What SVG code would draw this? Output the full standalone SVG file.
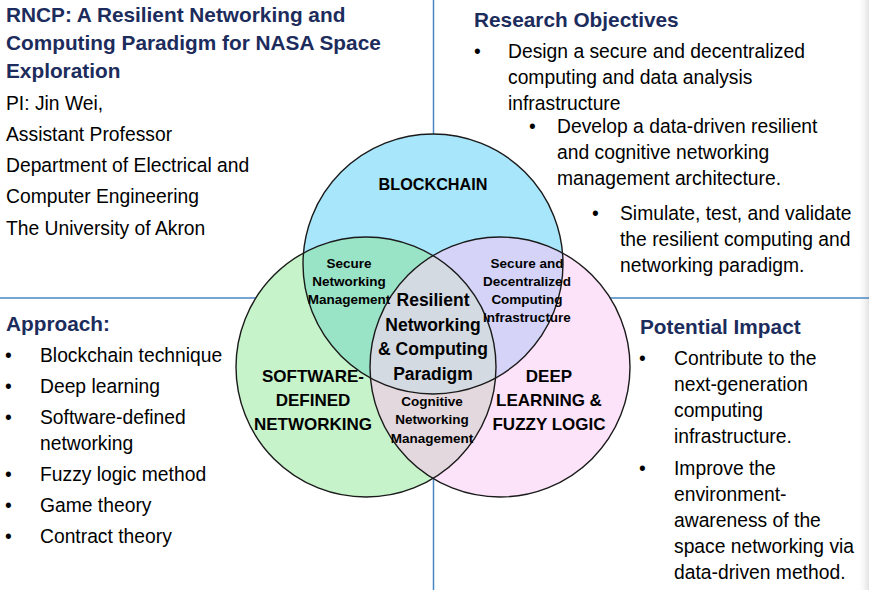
<svg xmlns="http://www.w3.org/2000/svg" width="869" height="590" viewBox="0 0 869 590">
<defs>
<style>
text{font-family:"Liberation Sans",Arial,sans-serif;fill:#000}
.h{font-weight:bold;font-size:20.8px;fill:#1c2c5c}
.b{font-size:19.3px}
.v{font-weight:bold;font-size:17px;text-anchor:middle}
.vs{font-weight:bold;font-size:13.5px;text-anchor:middle}
.grid{stroke:#4a86c4;stroke-width:1.5;fill:none}
.ring{fill:none;stroke:#1a1a1a;stroke-width:1.4}
</style>
<clipPath id="cBlue"><circle cx="433" cy="264" r="130"/></clipPath>
<clipPath id="cGreen"><circle cx="366" cy="367" r="130"/></clipPath>
<clipPath id="cPink"><circle cx="500" cy="367" r="130"/></clipPath>
<linearGradient id="edge" x1="0" y1="0" x2="1" y2="0">
<stop offset="0" stop-color="#ffffff" stop-opacity="0"/>
<stop offset="1" stop-color="#e2e2e2"/>
</linearGradient>
</defs>
<rect width="869" height="590" fill="#ffffff"/>
<rect x="857" y="0" width="12" height="590" fill="url(#edge)"/>

<g id="connectors">
<line class="grid" x1="433.5" y1="0" x2="433.5" y2="590"/>
<line class="grid" x1="0" y1="298" x2="869" y2="298"/>
</g>

<g id="venn">
<circle cx="433" cy="264" r="130" fill="#a8e6fc"/>
<circle cx="366" cy="367" r="130" fill="#c6f3c9"/>
<circle cx="500" cy="367" r="130" fill="#fde3fa"/>
<circle cx="366" cy="367" r="130" fill="#99e3c6" clip-path="url(#cBlue)"/>
<circle cx="500" cy="367" r="130" fill="#d5d4f8" clip-path="url(#cBlue)"/>
<circle cx="500" cy="367" r="130" fill="#e3d8dd" clip-path="url(#cGreen)"/>
<g clip-path="url(#cBlue)"><circle cx="500" cy="367" r="130" fill="#d3dae1" clip-path="url(#cGreen)"/></g>
<circle class="ring" cx="433" cy="264" r="130"/>
<circle class="ring" cx="366" cy="367" r="130"/>
<circle class="ring" cx="500" cy="367" r="130"/>
</g>

<g id="node-blockchain"><text class="v" x="433" y="190" style="font-size:16.2px">BLOCKCHAIN</text></g>
<g id="node-sdn">
<text class="v" x="313" y="382">SOFTWARE-</text>
<text class="v" x="313" y="406">DEFINED</text>
<text class="v" x="313" y="430">NETWORKING</text>
</g>
<g id="node-deep">
<text class="v" x="549" y="382">DEEP</text>
<text class="v" x="549" y="406">LEARNING &amp;</text>
<text class="v" x="549" y="430">FUZZY LOGIC</text>
</g>
<g id="node-snm">
<text class="vs" x="349" y="268">Secure</text>
<text class="vs" x="349" y="286">Networking</text>
<text class="vs" x="349" y="304">Management</text>
</g>
<g id="node-sdci">
<text class="vs" x="527" y="268">Secure and</text>
<text class="vs" x="527" y="286">Decentralized</text>
<text class="vs" x="527" y="304">Computing</text>
<text class="vs" x="527" y="322">Infrastructure</text>
</g>
<g id="node-cnm">
<text class="vs" x="432" y="406">Cognitive</text>
<text class="vs" x="432" y="424">Networking</text>
<text class="vs" x="432" y="443">Management</text>
</g>
<g id="node-center">
<text class="v" x="433" y="306" style="font-size:17.5px">Resilient</text>
<text class="v" x="433" y="331" style="font-size:17.5px">Networking</text>
<text class="v" x="433" y="355" style="font-size:17.5px">&amp; Computing</text>
<text class="v" x="433" y="380" style="font-size:17.5px">Paradigm</text>
</g>

<g id="title-block">
<text class="h" x="6" y="22">RNCP: A Resilient Networking and</text>
<text class="h" x="6" y="50">Computing Paradigm for NASA Space</text>
<text class="h" x="6" y="78">Exploration</text>
<text class="b" x="6" y="110">PI: Jin Wei,</text>
<text class="b" x="6" y="141">Assistant Professor</text>
<text class="b" x="6" y="172">Department of Electrical and</text>
<text class="b" x="6" y="203">Computer Engineering</text>
<text class="b" x="6" y="235">The University of Akron</text>
</g>

<g id="objectives">
<text class="h" x="474" y="27">Research Objectives</text>
<text class="b" x="474" y="58">•</text>
<text class="b" x="508" y="58">Design a secure and decentralized</text>
<text class="b" x="508" y="84">computing and data analysis</text>
<text class="b" x="508" y="110">infrastructure</text>
<text class="b" x="529" y="133">•</text>
<text class="b" x="557" y="133">Develop a data-driven resilient</text>
<text class="b" x="557" y="159">and cognitive networking</text>
<text class="b" x="557" y="185">management architecture.</text>
<text class="b" x="592" y="220">•</text>
<text class="b" x="620" y="220">Simulate, test, and validate</text>
<text class="b" x="620" y="246">the resilient computing and</text>
<text class="b" x="620" y="272">networking paradigm.</text>
</g>

<g id="approach">
<text class="h" x="6" y="331">Approach:</text>
<text class="b" x="5" y="362">•</text><text class="b" x="40" y="362">Blockchain technique</text>
<text class="b" x="5" y="393">•</text><text class="b" x="40" y="393">Deep learning</text>
<text class="b" x="5" y="424">•</text><text class="b" x="40" y="424">Software-defined</text>
<text class="b" x="40" y="450">networking</text>
<text class="b" x="5" y="481">•</text><text class="b" x="40" y="481">Fuzzy logic method</text>
<text class="b" x="5" y="512">•</text><text class="b" x="40" y="512">Game theory</text>
<text class="b" x="5" y="543">•</text><text class="b" x="40" y="543">Contract theory</text>
</g>

<g id="impact">
<text class="h" x="640" y="334">Potential Impact</text>
<text class="b" x="639" y="365">•</text>
<text class="b" x="674" y="365">Contribute to the</text>
<text class="b" x="674" y="391">next-generation</text>
<text class="b" x="674" y="417">computing</text>
<text class="b" x="674" y="443">infrastructure.</text>
<text class="b" x="639" y="475">•</text>
<text class="b" x="674" y="475">Improve the</text>
<text class="b" x="674" y="501">environment-</text>
<text class="b" x="674" y="527">awareness of the</text>
<text class="b" x="674" y="553">space networking via</text>
<text class="b" x="674" y="579">data-driven method.</text>
</g>
</svg>
